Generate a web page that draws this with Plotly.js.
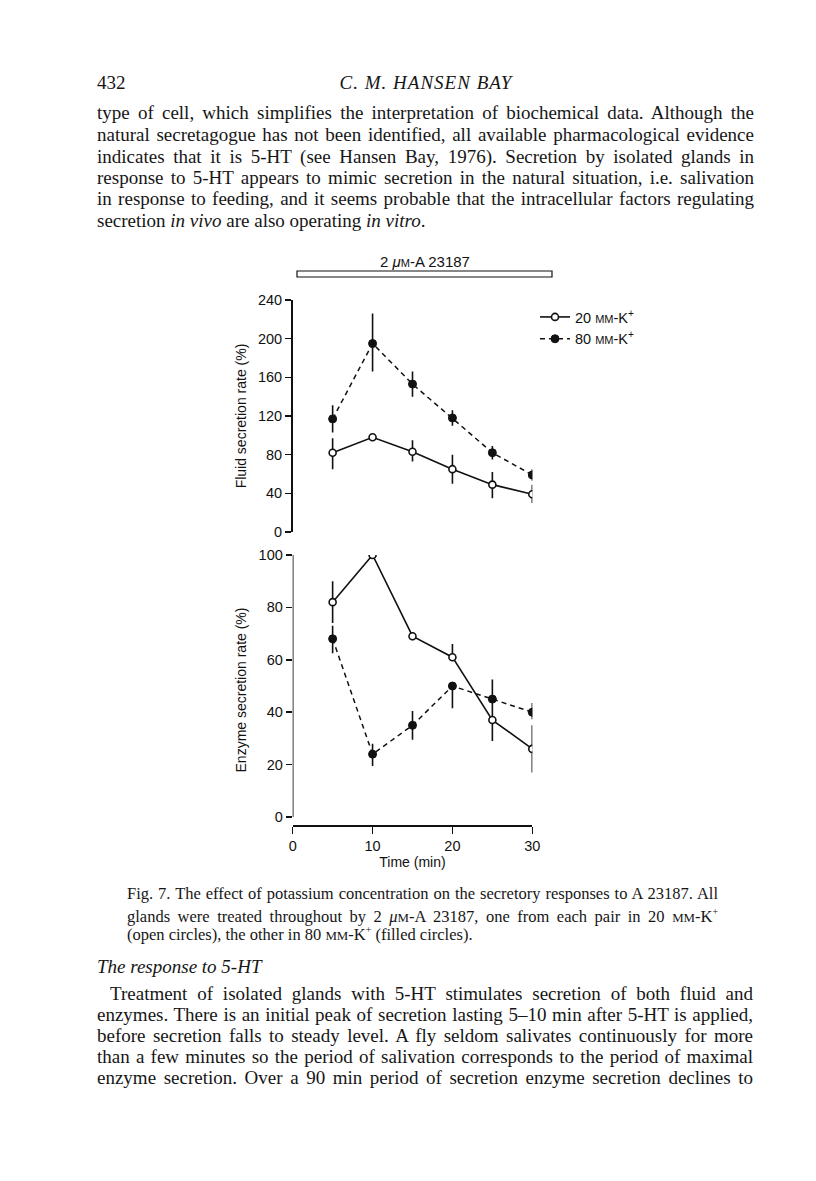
<!DOCTYPE html>
<html>
<head>
<meta charset="utf-8">
<script src="https://cdn.plot.ly/plotly-3.0.1.min.js"></script>
<style>
  html, body { margin: 0; padding: 0; background: #fff; }
  #page { position: relative; width: 816px; height: 1181px; overflow: hidden; }
  #chart { position: absolute; left: 0; top: 0; width: 816px; height: 1181px; }
  .t { position: absolute; font-family: "Liberation Serif", serif; color: #161616; white-space: normal; z-index: 5; }
  .body { font-size: 19px; line-height: 21px; }
  .j { text-align: justify; text-align-last: justify; }
  .cap { font-size: 16.5px; line-height: 18px; }
  .sc { font-size: 0.78em; }
</style>
</head>
<body>
<div id="page">
  <div id="chart"></div>

  <div class="t body" style="left:97px; top:72px;">432</div>
  <div class="t body" style="left:97px; width:658px; top:72px; text-align:center; font-style:italic; letter-spacing:1px;">C. M. HANSEN BAY</div>

  <div class="t body j" style="left:97px; width:657px; top:102px;">type of cell, which simplifies the interpretation of biochemical data. Although the</div>
  <div class="t body j" style="left:97px; width:657px; top:124px;">natural secretagogue has not been identified, all available pharmacological evidence</div>
  <div class="t body j" style="left:97px; width:657px; top:146px;">indicates that it is 5-HT (see Hansen Bay, 1976). Secretion by isolated glands in</div>
  <div class="t body j" style="left:97px; width:657px; top:167px;">response to 5-HT appears to mimic secretion in the natural situation, i.e. salivation</div>
  <div class="t body j" style="left:97px; width:657px; top:188px;">in response to feeding, and it seems probable that the intracellular factors regulating</div>
  <div class="t body" style="left:97px; width:657px; top:210px;">secretion <i>in vivo</i> are also operating <i>in vitro</i>.</div>

  <div class="t cap j" style="left:127px; width:591px; top:885px;">Fig. 7. The effect of potassium concentration on the secretory responses to A 23187. All</div>
  <div class="t cap j" style="left:127px; width:591px; top:903px;">glands were treated throughout by 2 <i>μ</i><span class="sc">M</span>-A 23187, one from each pair in 20 <span class="sc">MM</span>-K<sup style="font-size:0.6em">+</sup></div>
  <div class="t cap" style="left:127px; width:591px; top:921px;">(open circles), the other in 80 <span class="sc">MM</span>-K<sup style="font-size:0.6em">+</sup> (filled circles).</div>

  <div class="t body" style="left:97px; top:956px; font-style:italic;">The response to 5-HT</div>

  <div class="t body j" style="left:110px; width:643px; top:983px;">Treatment of isolated glands with 5-HT stimulates secretion of both fluid and</div>
  <div class="t body j" style="left:97px; width:656px; top:1004px;">enzymes. There is an initial peak of secretion lasting 5–10 min after 5-HT is applied,</div>
  <div class="t body j" style="left:97px; width:656px; top:1025px;">before secretion falls to steady level. A fly seldom salivates continuously for more</div>
  <div class="t body j" style="left:97px; width:656px; top:1046px;">than a few minutes so the period of salivation corresponds to the period of maximal</div>
  <div class="t body j" style="left:97px; width:656px; top:1067px;">enzyme secretion. Over a 90 min period of secretion enzyme secretion declines to</div>
</div>

<script>
// ---- data ----
const timeMin = [5, 10, 15, 20, 25, 30];

const fluid20 = [82, 98, 83, 65, 49, 39];
const fluid20ErrPlus = [15, 0, 12, 15, 13, 10];
const fluid20ErrMinus = [17, 0, 10, 15, 14, 9];

const fluid80 = [117, 195, 153, 118, 82, 59];
const fluid80ErrPlus = [14, 31, 13, 8, 7, 6];
const fluid80ErrMinus = [14, 29, 13, 8, 7, 6];

const enzyme20 = [82, 100, 69, 61, 37, 26];
const enzyme20ErrPlus = [8, 0, 1.5, 5, 8, 9];
const enzyme20ErrMinus = [8, 0, 1.5, 0, 8, 9];

const enzyme80 = [68, 24, 35, 50, 45, 40];
const enzyme80ErrPlus = [5, 4, 5.5, 0, 7.5, 3.5];
const enzyme80ErrMinus = [5.5, 4.5, 5.5, 8.5, 0, 2.7];

const fluidTicks = [0, 40, 80, 120, 160, 200, 240];
const enzymeTicks = [0, 20, 40, 60, 80, 100];
const timeTicks = [0, 10, 20, 30];

const label20 = '20 <span style="font-size:11px">MM</span>-K<sup>+</sup>';
const label80 = '80 <span style="font-size:11px">MM</span>-K<sup>+</sup>';

// ---- styles ----
const ink = '#111';
const sans = 'Liberation Sans, Arial, sans-serif';
const openMarker = {symbol: 'circle', size: 7, color: '#fff', line: {color: ink, width: 1.6}};
const filledMarker = {symbol: 'circle', size: 8, color: ink, line: {color: ink, width: 1}};
const solidLine = {color: ink, width: 1.6};
const dashLine = {color: ink, width: 1.5, dash: '5px,4px'};
function err(plus, minus) {
  return {type: 'data', symmetric: false, array: plus, arrayminus: minus, color: ink, thickness: 1.6, width: 0};
}

const traces = [
  {x: timeMin, y: fluid80, xaxis: 'x', yaxis: 'y', mode: 'lines+markers', name: label80,
   line: dashLine, marker: filledMarker, error_y: err(fluid80ErrPlus, fluid80ErrMinus), legendrank: 2},
  {x: timeMin, y: fluid20, xaxis: 'x', yaxis: 'y', mode: 'lines+markers', name: label20,
   line: solidLine, marker: openMarker, error_y: err(fluid20ErrPlus, fluid20ErrMinus), legendrank: 1},
  {x: timeMin, y: enzyme80, xaxis: 'x2', yaxis: 'y2', mode: 'lines+markers', name: label80, showlegend: false,
   line: dashLine, marker: filledMarker, error_y: err(enzyme80ErrPlus, enzyme80ErrMinus)},
  {x: timeMin, y: enzyme20, xaxis: 'x2', yaxis: 'y2', mode: 'lines+markers', name: label20, showlegend: false,
   line: solidLine, marker: openMarker, error_y: err(enzyme20ErrPlus, enzyme20ErrMinus)}
];

const W = 816, H = 1181;
const xDom = [292.7 / W, 532.3 / W];
const tickFont = {family: sans, size: 14.5, color: ink};
const titleFont = {family: sans, size: 14, color: ink};

const layout = {
  width: W, height: H,
  margin: {l: 0, r: 0, t: 0, b: 0},
  paper_bgcolor: '#fff', plot_bgcolor: 'rgba(0,0,0,0)',
  showlegend: true,
  legend: {x: 535 / W, y: 1 - 301 / H, xanchor: 'left', yanchor: 'top',
           font: {family: sans, size: 14.5, color: ink},
           bgcolor: 'rgba(0,0,0,0)', itemwidth: 30, tracegroupgap: 0, traceorder: 'normal'},
  xaxis: {domain: xDom, range: [0, 30], visible: false, anchor: 'y', fixedrange: true},
  yaxis: {domain: [1 - 532 / H, 1 - 300 / H], range: [0, 240], anchor: 'x',
          tickvals: fluidTicks, ticks: 'outside', ticklen: 6, tickwidth: 1.5, tickcolor: ink,
          showline: true, linewidth: 1.6, linecolor: ink, showgrid: false, zeroline: false,
          tickfont: tickFont, automargin: false,
          title: {text: 'Fluid secretion rate (%)', font: titleFont, standoff: 8}},
  xaxis2: {domain: xDom, range: [0, 30], anchor: 'y2',
           tickvals: timeTicks, ticks: 'outside', ticklen: 7, tickwidth: 1.5, tickcolor: ink,
           showline: true, linewidth: 1.6, linecolor: ink, showgrid: false, zeroline: false,
           tickfont: tickFont, automargin: false,
           title: {text: 'Time (min)', font: titleFont, standoff: 4}},
  yaxis2: {domain: [1 - 825 / H, 1 - 555 / H], range: [-3.05, 100], anchor: 'x2',
           tickvals: enzymeTicks, ticks: 'outside', ticklen: 6, tickwidth: 1.5, tickcolor: ink,
           showline: false, showgrid: false, zeroline: false,
           tickfont: tickFont, automargin: false,
           title: {text: 'Enzyme secretion rate (%)', font: titleFont, standoff: 8}},
  shapes: [
    // y-axis line of the lower panel (from 0 to 100)
    {type: 'line', xref: 'x2', yref: 'y2', x0: 0, x1: 0, y0: 0, y1: 100, line: {color: ink, width: 1.6}},
    // treatment bar "2 µM-A 23187"
    {type: 'rect', xref: 'paper', yref: 'paper', x0: 297 / W, x1: 552 / W, y0: 1 - 277 / H, y1: 1 - 271 / H,
     line: {color: ink, width: 1.2}, fillcolor: '#fff'}
  ],
  annotations: [
    {xref: 'paper', yref: 'paper', x: 425 / W, y: 1 - 261 / H, xanchor: 'center', yanchor: 'middle', showarrow: false,
     text: '2 <i>μ</i><span style="font-size:11px">M</span>-A 23187',
     font: {family: sans, size: 15, color: ink}}
  ]
};

Plotly.newPlot('chart', traces, layout, {staticPlot: true, displayModeBar: false});
</script>
</body>
</html>
